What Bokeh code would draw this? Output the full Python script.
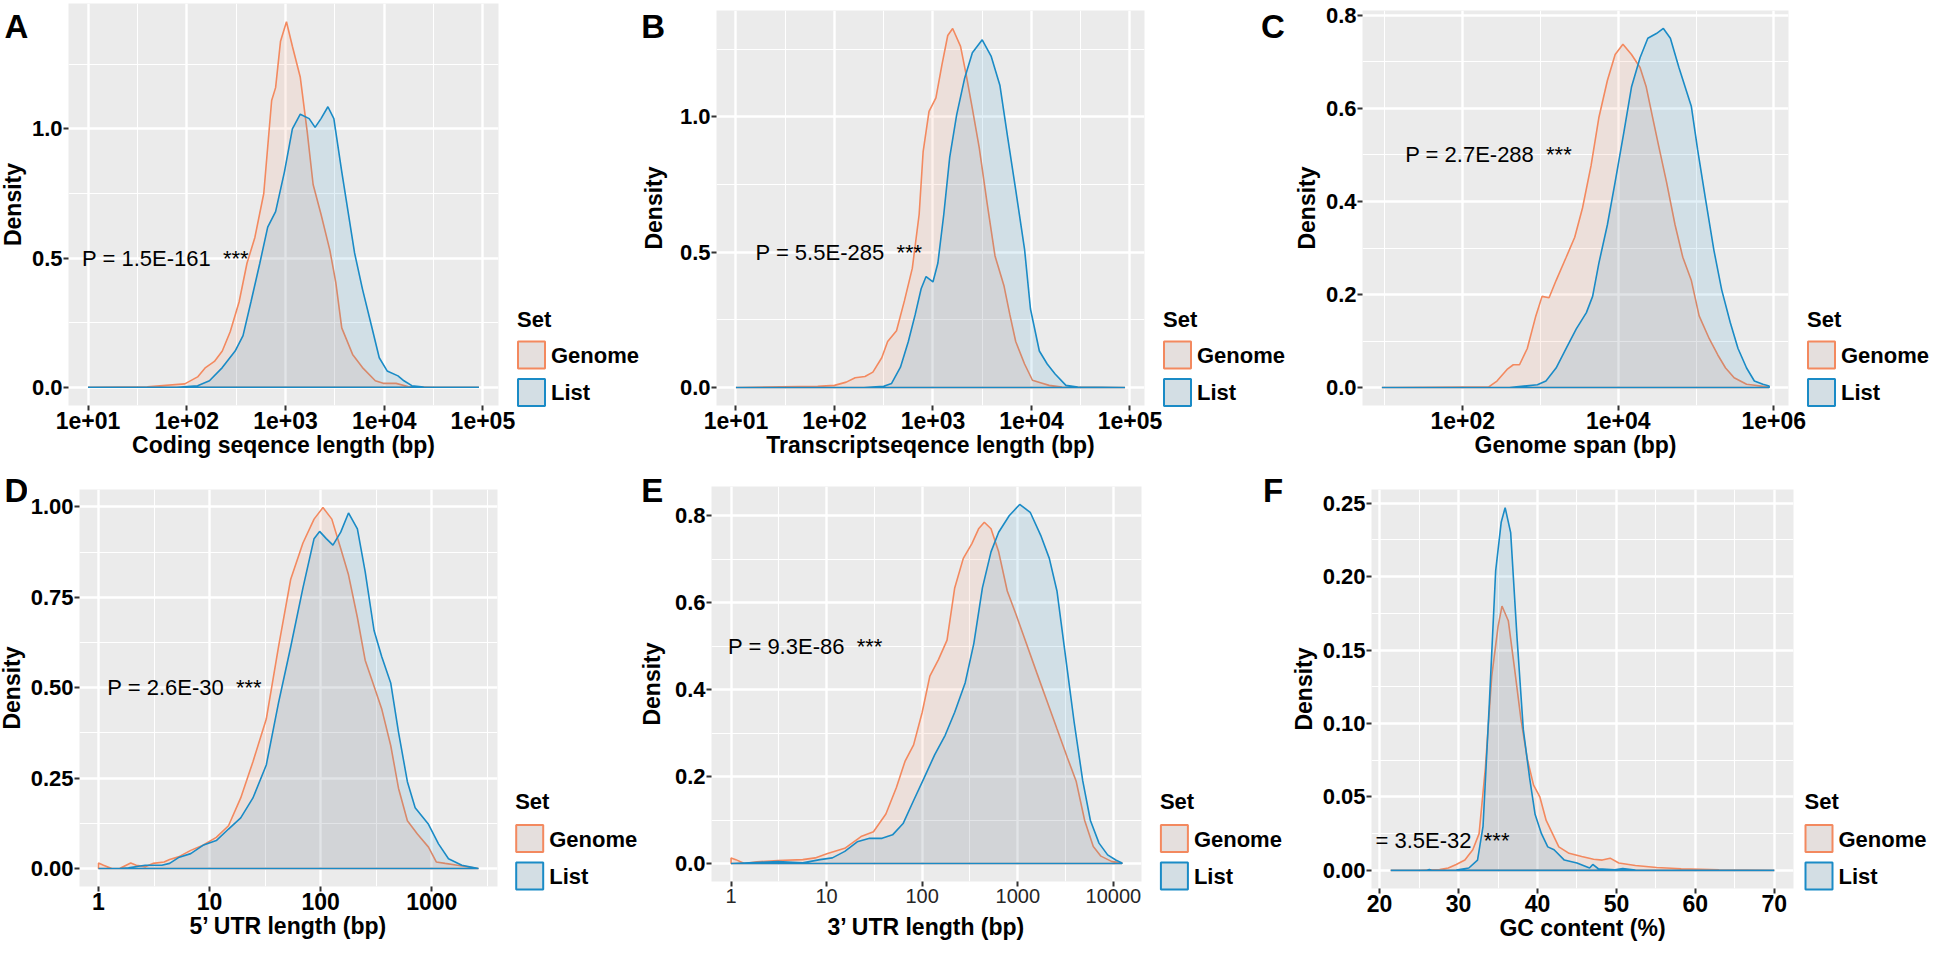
import numpy as np
from bokeh.plotting import figure
from bokeh.models import Range1d, FixedTicker
from bokeh.layouts import row, column
from bokeh.embed import file_html
from bokeh.resources import INLINE
from bokeh.core.properties import value

# ---------------------------------------------------------------- data
# x values of the log panels are log10(bp); densities
A_genome_log = [1.0, 1.6, 1.98, 2.11, 2.19, 2.28, 2.36, 2.44, 2.53, 2.61, 2.69, 2.78, 2.86, 2.90, 2.95, 3.01,
                3.07, 3.15, 3.22, 3.28, 3.36, 3.45, 3.51, 3.57, 3.68, 3.78, 3.91, 3.99, 4.12, 4.24, 4.5, 4.96]
A_genome_den = [0, 0.002, 0.013, 0.04, 0.076, 0.10, 0.14, 0.215, 0.33, 0.48, 0.58, 0.75, 1.11, 1.16, 1.34, 1.415,
                1.32, 1.20, 0.99, 0.785, 0.67, 0.53, 0.405, 0.23, 0.127, 0.076, 0.025, 0.015, 0.015, 0.003, 0.0, 0.0]
A_list_log = [1.0, 1.9, 2.11, 2.23, 2.36, 2.49, 2.57, 2.65, 2.74, 2.82, 2.90, 2.99, 3.07, 3.15, 3.24, 3.30, 3.36,
              3.43, 3.49, 3.57, 3.70, 3.78, 3.87, 3.95, 4.03, 4.14, 4.20, 4.28, 4.4, 4.96]
A_list_den = [0, 0, 0.006, 0.025, 0.076, 0.14, 0.20, 0.33, 0.48, 0.62, 0.68, 0.835, 1.0, 1.057, 1.04, 1.006, 1.04,
              1.086, 1.04, 0.835, 0.52, 0.38, 0.24, 0.114, 0.063, 0.044, 0.025, 0.006, 0.001, 0]

B_genome_log = [1.0, 1.83, 2.0, 2.12, 2.21, 2.31, 2.39, 2.48, 2.54, 2.63, 2.71, 2.79, 2.86, 2.90, 2.96, 3.03, 3.09,
                3.15, 3.20, 3.28, 3.34, 3.40, 3.47, 3.55, 3.63, 3.72, 3.78, 3.84, 3.93, 4.01, 4.10, 4.18, 4.31, 4.95]
B_genome_den = [0, 0.005, 0.008, 0.02, 0.036, 0.041, 0.057, 0.11, 0.17, 0.21, 0.32, 0.44, 0.64, 0.87, 1.02, 1.07,
                1.19, 1.30, 1.326, 1.26, 1.15, 1.03, 0.885, 0.68, 0.486, 0.377, 0.27, 0.17, 0.087, 0.027, 0.017,
                0.008, 0.002, 0]
B_list_log = [1.0, 2.3, 2.50, 2.58, 2.67, 2.75, 2.82, 2.88, 2.93, 3.00, 3.05, 3.11, 3.17, 3.24, 3.32, 3.40, 3.50,
              3.59, 3.68, 3.76, 3.84, 3.93, 3.99, 4.08, 4.16, 4.24, 4.35, 4.47, 4.95]
B_list_den = [0, 0, 0.005, 0.015, 0.075, 0.17, 0.27, 0.365, 0.41, 0.39, 0.46, 0.64, 0.85, 1.006, 1.14, 1.236,
              1.284, 1.224, 1.115, 0.92, 0.73, 0.51, 0.29, 0.135, 0.087, 0.05, 0.008, 0.002, 0]

C_genome_log = [0.96, 2.0, 2.33, 2.44, 2.57, 2.65, 2.73, 2.83, 2.94, 3.02, 3.11, 3.20, 3.33, 3.44, 3.54, 3.65,
                3.75, 3.86, 3.96, 4.06, 4.17, 4.28, 4.36, 4.44, 4.52, 4.62, 4.73, 4.83, 4.94, 5.04, 5.17, 5.28,
                5.38, 5.49, 5.65, 5.94]
C_genome_den = [0, 0.001, 0.001, 0.014, 0.039, 0.049, 0.049, 0.084, 0.154, 0.196, 0.193, 0.23, 0.28, 0.323,
                0.386, 0.477, 0.58, 0.66, 0.716, 0.738, 0.716, 0.688, 0.646, 0.582, 0.519, 0.442, 0.35, 0.28,
                0.23, 0.154, 0.105, 0.07, 0.042, 0.021, 0.007, 0.001]
C_list_log = [0.96, 2.6, 2.96, 3.07, 3.20, 3.33, 3.46, 3.59, 3.67, 3.75, 3.86, 3.96, 4.07, 4.17, 4.28, 4.38, 4.49,
              4.58, 4.67, 4.78, 4.86, 4.94, 5.02, 5.12, 5.23, 5.33, 5.44, 5.54, 5.65, 5.75, 5.86, 5.94]
C_list_den = [0, 0, 0.006, 0.014, 0.042, 0.084, 0.126, 0.161, 0.196, 0.267, 0.35, 0.442, 0.547, 0.646, 0.709,
              0.751, 0.761, 0.772, 0.751, 0.688, 0.646, 0.604, 0.512, 0.407, 0.295, 0.21, 0.14, 0.084, 0.042,
              0.014, 0.007, 0.0035]

D_genome_log = [0, 0.045, 0.12, 0.19, 0.29, 0.34, 0.42, 0.49, 0.59, 0.64, 0.72, 0.83, 0.94, 1.06, 1.17, 1.28,
                1.39, 1.51, 1.62, 1.73, 1.84, 1.94, 2.02, 2.10, 2.18, 2.25, 2.33, 2.40, 2.48, 2.55, 2.63, 2.70,
                2.78, 2.87, 2.97, 3.04, 3.12, 3.23, 3.42]
D_genome_den = [0.015, 0.009, 0, 0, 0.015, 0.009, 0.005, 0.014, 0.018, 0.025, 0.032, 0.05, 0.064, 0.086, 0.118,
                0.195, 0.295, 0.413, 0.613, 0.80, 0.90, 0.966, 0.998, 0.966, 0.885, 0.812, 0.694, 0.576, 0.504,
                0.44, 0.34, 0.222, 0.132, 0.095, 0.059, 0.018, 0.014, 0.009, 0]
D_list_log = [0, 0.19, 0.27, 0.42, 0.57, 0.64, 0.72, 0.83, 0.94, 1.06, 1.17, 1.28, 1.39, 1.51, 1.62, 1.73, 1.84,
              1.94, 1.99, 2.05, 2.11, 2.18, 2.25, 2.33, 2.40, 2.48, 2.55, 2.63, 2.70, 2.78, 2.85, 2.97, 3.06,
              3.15, 3.27, 3.42]
D_list_den = [0, 0, 0.002, 0.009, 0.009, 0.014, 0.03, 0.041, 0.064, 0.077, 0.109, 0.14, 0.195, 0.286, 0.458,
              0.613, 0.776, 0.912, 0.932, 0.912, 0.894, 0.93, 0.983, 0.939, 0.821, 0.658, 0.585, 0.513, 0.377,
              0.24, 0.168, 0.122, 0.068, 0.027, 0.009, 0]

E_genome_log = [0, 0.05, 0.14, 0.27, 0.49, 0.75, 0.88, 1.01, 1.19, 1.36, 1.49, 1.62, 1.73, 1.82, 1.91, 2.00,
                2.08, 2.17, 2.26, 2.34, 2.43, 2.52, 2.59, 2.65, 2.72, 2.80, 2.89, 2.98, 3.09, 3.20, 3.31, 3.41,
                3.52, 3.61, 3.70, 3.79, 3.87, 3.98, 4.09]
E_genome_den = [0.013, 0.009, 0, 0.004, 0.007, 0.009, 0.013, 0.023, 0.035, 0.062, 0.073, 0.114, 0.175, 0.235,
                0.273, 0.348, 0.431, 0.469, 0.514, 0.634, 0.702, 0.736, 0.77, 0.785, 0.77, 0.717, 0.627, 0.574,
                0.506, 0.438, 0.371, 0.31, 0.243, 0.19, 0.099, 0.039, 0.017, 0.005, 0.0015]
E_list_log = [0, 0.31, 0.49, 0.75, 0.93, 1.06, 1.19, 1.32, 1.45, 1.58, 1.69, 1.80, 1.91, 2.02, 2.13, 2.24, 2.34,
              2.45, 2.54, 2.63, 2.72, 2.80, 2.91, 3.02, 3.13, 3.24, 3.33, 3.41, 3.50, 3.59, 3.68, 3.76, 3.85,
              3.94, 4.03, 4.09]
E_list_den = [0, 0.003, 0.0045, 0.0015, 0.009, 0.013, 0.028, 0.05, 0.058, 0.058, 0.066, 0.092, 0.145, 0.197,
              0.25, 0.295, 0.348, 0.416, 0.506, 0.634, 0.717, 0.762, 0.8, 0.826, 0.808, 0.755, 0.702, 0.627,
              0.476, 0.325, 0.19, 0.099, 0.047, 0.02, 0.0075, 0.0015]

F_genome_gc = [21.4, 25.0, 27.6, 28.7, 29.7, 30.8, 31.8, 32.6, 33.4, 34.2, 35.0, 35.5, 36.3, 37.1, 37.9, 38.7,
               39.5, 40.3, 41.1, 41.9, 42.7, 44.0, 45.6, 47.1, 48.2, 49.2, 50.3, 52.4, 55.1, 58.2, 63.0, 70.0]
F_genome_den = [0, 0, 0.0005, 0.0016, 0.004, 0.007, 0.014, 0.025, 0.07, 0.132, 0.166, 0.18, 0.17, 0.137, 0.103,
                0.076, 0.058, 0.05, 0.034, 0.025, 0.016, 0.0116, 0.0094, 0.0076, 0.007, 0.0083, 0.005, 0.0033,
                0.002, 0.0011, 0.0004, 0]
F_list_gc = [21.4, 26.0, 26.3, 26.6, 29.7, 31.3, 32.4, 33.1, 33.9, 34.7, 35.4, 35.9, 36.6, 37.4, 38.2, 39.0,
             39.7, 40.5, 41.3, 42.1, 43.4, 45.0, 46.6, 47.0, 47.7, 49.8, 50.8, 52.4, 70.0]
F_list_den = [0, 0, 0.0005, 0, 0.0002, 0.0016, 0.007, 0.03, 0.114, 0.204, 0.237, 0.247, 0.23, 0.159, 0.096,
              0.063, 0.038, 0.025, 0.016, 0.014, 0.007, 0.005, 0.0016, 0.004, 0.0011, 0.0004, 0.0013, 0.0002, 0]

A_xticks = [10, 100, 1000, 10000, 100000]
A_xlabels = ["1e+01", "1e+02", "1e+03", "1e+04", "1e+05"]
C_xticks = [100, 10000, 1000000]
C_xlabels = ["1e+02", "1e+04", "1e+06"]
D_xticks = [1, 10, 100, 1000]
D_xlabels = ["1", "10", "100", "1000"]
E_xticks = [1, 10, 100, 1000, 10000]
E_xlabels = ["1", "10", "100", "1000", "10000"]
F_xticks = [20, 30, 40, 50, 60, 70]
F_xlabels = ["20", "30", "40", "50", "60", "70"]

AB_yticks = [0.0, 0.5, 1.0]
AB_ylabels = ["0.0", "0.5", "1.0"]
CE_yticks = [0.0, 0.2, 0.4, 0.6, 0.8]
CE_ylabels = ["0.0", "0.2", "0.4", "0.6", "0.8"]
D_yticks = [0.0, 0.25, 0.5, 0.75, 1.0]
D_ylabels = ["0.00", "0.25", "0.50", "0.75", "1.00"]
F_yticks = [0.0, 0.05, 0.1, 0.15, 0.2, 0.25]
F_ylabels = ["0.00", "0.05", "0.10", "0.15", "0.20", "0.25"]

y_title = "Density"
legend_title = "Set"
set_names = ["Genome", "List"]
p_texts = ["P = 1.5E-161", "P = 5.5E-285", "P = 2.7E-288", "P = 2.6E-30", "P = 9.3E-86", "P = 3.5E-32"]
p_x = [8.7, 15.8, 18.2, 1.2, 0.93, 16.9]
p_y = [0.5, 0.5, 0.5, 0.5, 0.5, 0.02]

# ---------------------------------------------------------------- style
FONT = "Liberation Sans"
GEN = "#F3895F"
LST = "#1A8BC6"
KEY_FILL = ["#E5DFDD", "#D3DEE4"]
BG = "#EBEBEB"


def minor_between(ticks, log):
    t = np.log10(ticks) if log else np.asarray(ticks, float)
    step = t[1] - t[0]
    mids = list((t[:-1] + t[1:]) / 2) + [t[0] - step / 2, t[-1] + step / 2]
    return [10 ** m for m in mids] if log else mids


def style_axis(ax, size, weight, color, lab_standoff, title_standoff):
    ax.axis_line_color = None
    ax.major_tick_line_color = "#333333"
    ax.major_tick_line_width = 2
    ax.major_tick_in = 0
    ax.major_tick_out = 5
    ax.minor_tick_in = 0
    ax.minor_tick_out = 0
    ax.minor_tick_line_color = None
    ax.major_label_text_font = FONT
    ax.major_label_text_font_size = size
    ax.major_label_text_font_style = weight
    ax.major_label_text_color = color
    ax.major_label_standoff = lab_standoff
    ax.axis_label_text_font = FONT
    ax.axis_label_text_font_size = "23px"
    ax.axis_label_text_font_style = "bold"
    ax.axis_label_text_color = "black"
    ax.axis_label_standoff = title_standoff


def main_panel(w, h, borders, log, gx, gy, lx, ly, xticks, xlabels, yticks, ylabels, xtitle,
               ptxt, px, py, own_ytitle, xlab=("23px", "bold", "black", 1, 0)):
    L, R, T, B = borders
    allx = list(gx) + list(lx)
    lo, hi = min(allx), max(allx)
    pad = 0.05 * (hi - lo)
    if log:
        xr = Range1d(10 ** (lo - pad), 10 ** (hi + pad))
    else:
        xr = Range1d(lo - pad, hi + pad)
    M = max(max(gy), max(ly))
    yr = Range1d(-0.05 * M, 1.05 * M)

    p = figure(width=w, height=h, x_axis_type="log" if log else "linear", x_range=xr, y_range=yr,
               output_backend="svg", toolbar_location=None, frame_align=False,
               min_border_left=L, min_border_right=R, min_border_top=T, min_border_bottom=B,
               background_fill_color=BG, border_fill_color="white", outline_line_color=None)

    xmin_ = [m for m in minor_between(xticks, log) if xr.start < m < xr.end]
    ymin_ = [m for m in minor_between(yticks, False) if yr.start < m < yr.end]
    xt = FixedTicker(ticks=xticks, minor_ticks=xmin_)
    yt = FixedTicker(ticks=yticks, minor_ticks=ymin_)
    p.xaxis.ticker = xt
    p.yaxis.ticker = yt
    p.xgrid.ticker = xt
    p.ygrid.ticker = yt
    p.xaxis.major_label_overrides = {t: s for t, s in zip(xticks, xlabels)}
    p.yaxis.major_label_overrides = {t: s for t, s in zip(yticks, ylabels)}
    style_axis(p.xaxis[0], *xlab)
    style_axis(p.yaxis[0], "22px", "bold", "black", 1, 3)
    p.xaxis.axis_label = xtitle
    if own_ytitle:
        p.yaxis.axis_label = y_title
    for g in (p.xgrid[0], p.ygrid[0]):
        g.grid_line_color = "white"
        g.grid_line_width = 2.4
        g.minor_grid_line_color = "white"
        g.minor_grid_line_width = 1.1

    for xs_raw, ys, col in ((gx, gy, GEN), (lx, ly, LST)):
        xs = [10 ** v for v in xs_raw] if log else list(xs_raw)
        polx = xs + [xs[-1], xs[0]]
        poly = list(ys) + [0, 0]
        p.patch(polx, poly, fill_color=col, fill_alpha=0.12, line_color=col, line_width=1.6)

    p.text(x=[px], y=[py], text=[ptxt + "\u00a0\u00a0***"], text_font=value(FONT), text_font_size="22px",
           text_align="left", text_baseline="middle", text_color="black")
    return p


def blank_canvas(w, h):
    """A plain canvas in pixel units (y downwards) for legend, panel letter and side title."""
    p = figure(width=w, height=h, x_range=Range1d(0, w), y_range=Range1d(h, 0),
               output_backend="svg", toolbar_location=None, min_border=0, frame_align=False,
               x_axis_location=None, y_axis_location=None, outline_line_color=None,
               background_fill_color="white", border_fill_color="white")
    p.xgrid.visible = False
    p.ygrid.visible = False
    return p


def add_letter(p, letter, x, y):
    p.text(x=[x], y=[y], text=[letter], text_font=value(FONT), text_font_style="bold",
           text_font_size="33px", text_align="left", text_baseline="alphabetic", text_color="black")


def strip_panel(w, h, letter, lx_, ly_, tx, ty):
    p = blank_canvas(w, h)
    add_letter(p, letter, lx_, ly_)
    p.text(x=[tx], y=[ty], text=[y_title], angle=np.pi / 2, text_font=value(FONT), text_font_style="bold",
           text_font_size="23px", text_align="center", text_baseline="middle", text_color="black")
    return p


def legend_panel(w, h, kx, ys, letter=None):
    set_y, key_tops, lab_ys = ys
    p = blank_canvas(w, h)
    p.text(x=[kx - 1], y=[set_y], text=[legend_title], text_font=value(FONT), text_font_style="bold",
           text_font_size="22px", text_align="left", text_baseline="middle", text_color="black")
    p.quad(left=[kx, kx], right=[kx + 27, kx + 27], top=key_tops, bottom=[t + 27 for t in key_tops],
           fill_color=KEY_FILL, line_color=[GEN, LST], line_width=2)
    p.text(x=[kx + 33, kx + 33], y=lab_ys, text=set_names, text_font=value(FONT), text_font_style="bold",
           text_font_size="22px", text_align="left", text_baseline="middle", text_color="black")
    if letter is not None:
        add_letter(p, *letter)
    return p


H1, H2 = 463, 484
ROW1_LEG = (318.5, [341.0, 378.5], [354.5, 392.0])
ROW2_LEG = (338.0, [361.5, 399.0], [375.5, 413.0])

sA = strip_panel(28, H1, "A", 4, 26, 12, 204)
pA = main_panel(488, H1, (38, 18, 3, 58), True, A_genome_log, A_genome_den, A_list_log, A_list_den,
                A_xticks, A_xlabels, AB_yticks, AB_ylabels, "Coding seqence length (bp)",
                p_texts[0], p_x[0], p_y[0], False)
lA = legend_panel(124, H1, 1.5, ROW1_LEG)
sB = strip_panel(28, H1, "B", 0.7, 26, 13.6, 207.5)
pB = main_panel(494, H1, (48, 18, 10, 58), True, B_genome_log, B_genome_den, B_list_log, B_list_den,
                A_xticks, A_xlabels, AB_yticks, AB_ylabels, "Transcriptseqence length (bp)",
                p_texts[1], p_x[1], p_y[1], False)
lB = legend_panel(128, H1, 1.5, ROW1_LEG, ("C", 98.5, 26))
pC = main_panel(516, H1, (67, 18, 10, 58), True, C_genome_log, C_genome_den, C_list_log, C_list_den,
                C_xticks, C_xlabels, CE_yticks, CE_ylabels, "Genome span (bp)",
                p_texts[2], p_x[2], p_y[2], True)
lC = legend_panel(124, H1, 1.5, ROW1_LEG)

sD = strip_panel(27, H2, "D", 4, 26.7, 11.4, 224.5)
pD = main_panel(478, H2, (48, 8, 26, 61), True, D_genome_log, D_genome_den, D_list_log, D_list_den,
                D_xticks, D_xlabels, D_yticks, D_ylabels, "5\u2019 UTR length (bp)",
                p_texts[3], p_x[3], p_y[3], False)
lD = legend_panel(135, H2, 10.7, ROW2_LEG)
sE = strip_panel(28, H2, "E", 0.7, 26.7, 11, 220.5)
pE = main_panel(482, H2, (43, 9, 23, 66), True, E_genome_log, E_genome_den, E_list_log, E_list_den,
                E_xticks, E_xlabels, CE_yticks, CE_ylabels, "3\u2019 UTR length (bp)",
                p_texts[4], p_x[4], p_y[4], False, xlab=("20px", "normal", "#262626", 2, 8))
lE = legend_panel(135, H2, 10.4, ROW2_LEG, ("F", 112.5, 26.7))
pF = main_panel(515, H2, (86, 7, 26, 59), False, F_genome_gc, F_genome_den, F_list_gc, F_list_den,
                F_xticks, F_xlabels, F_yticks, F_ylabels, "GC content (%)",
                p_texts[5], p_x[5], p_y[5], True)
lF = legend_panel(130, H2, 5, ROW2_LEG)

layout = column(row(sA, pA, lA, sB, pB, lB, pC, lC), row(sD, pD, lD, sE, pE, lE, pF, lF))
open("out.html", "w").write(file_html(layout, INLINE))
